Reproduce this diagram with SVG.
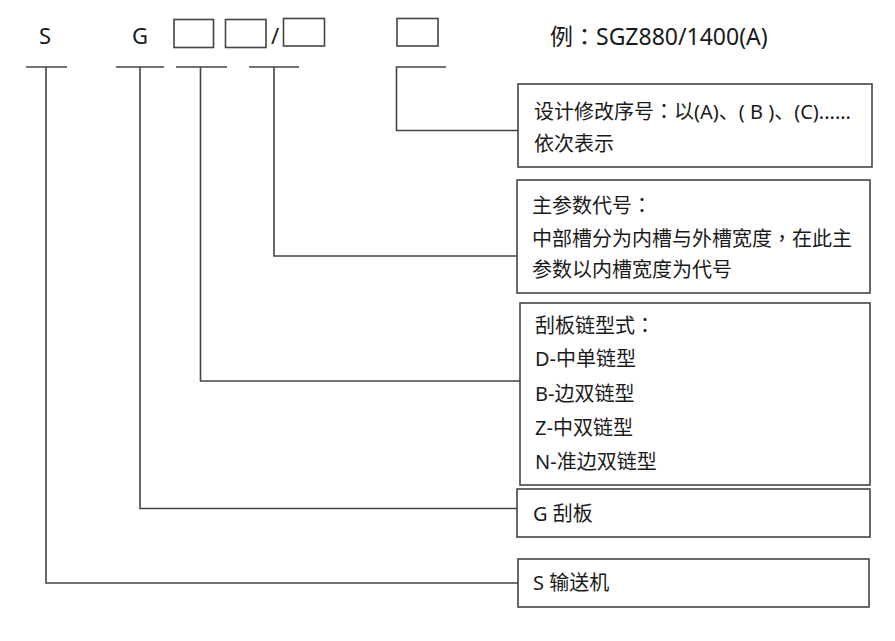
<svg xmlns="http://www.w3.org/2000/svg" width="895" height="641" viewBox="0 0 895 641">
<style>
.t{font-family:"Noto Sans","Noto Sans CJK SC",sans-serif;font-size:20px;fill:#1a1a1a}
.h{font-size:22px}
.e{font-size:23px}
.p{font-family:"Noto Sans CJK TC",sans-serif}
.b{fill:#fff;stroke:#444;stroke-width:1.6}
.c{fill:none;stroke:#444;stroke-width:1.6}
</style>
<rect width="895" height="641" fill="#fff"/>
<g id="header">
<text class="t h" x="45" y="44" text-anchor="middle">S</text>
<text class="t h" x="140" y="44" text-anchor="middle">G</text>
<rect class="b" x="174" y="19.5" width="39.5" height="28"/>
<rect class="b" x="225.5" y="19.5" width="40.5" height="28"/>
<text class="t h" x="275" y="44" text-anchor="middle">/</text>
<rect class="b" x="283.5" y="18.5" width="41" height="27.5"/>
<rect class="b" x="397" y="18.5" width="41" height="27.5"/>
<text class="t e" x="550" y="45">例<tspan class="p">：</tspan>SGZ880/1400(A)</text>
</g>
<g id="connectors">
<polyline class="c" points="26,67 67,67"/>
<polyline class="c" points="46,67 46,583 518,583"/>
<polyline class="c" points="116,67 164,67"/>
<polyline class="c" points="140,67 140,508.5 517,508.5"/>
<polyline class="c" points="176,67 227,67"/>
<polyline class="c" points="200.5,67 200.5,381 520,381"/>
<polyline class="c" points="249,67 299,67"/>
<polyline class="c" points="274,67 274,256 517,256"/>
<polyline class="c" points="446,67 396.5,67 396.5,130.5 518,130.5"/>
</g>
<g id="node-revision">
<rect class="b" x="518" y="84" width="354" height="83"/>
<text class="t" x="534" y="119">设计修改序号<tspan class="p">：</tspan>以(A)、( B )、(C)......</text>
<text class="t" x="534" y="151">依次表示</text>
</g>
<g id="node-param">
<rect class="b" x="517" y="180" width="353" height="113"/>
<text class="t" x="532" y="213">主参数代号<tspan class="p">：</tspan></text>
<text class="t" x="532" y="246">中部槽分为内槽与外槽宽度<tspan class="p">，</tspan>在此主</text>
<text class="t" x="532" y="277">参数以内槽宽度为代号</text>
</g>
<g id="node-chain">
<rect class="b" x="520" y="303" width="350" height="182"/>
<text class="t" x="535" y="333">刮板链型式<tspan class="p">：</tspan></text>
<text class="t" x="535" y="366">D-中单链型</text>
<text class="t" x="535" y="401">B-边双链型</text>
<text class="t" x="535" y="435">Z-中双链型</text>
<text class="t" x="535" y="469">N-准边双链型</text>
</g>
<g id="node-g">
<rect class="b" x="517" y="489" width="353" height="48"/>
<text class="t" x="533" y="521">G 刮板</text>
</g>
<g id="node-s">
<rect class="b" x="518" y="559" width="351" height="48"/>
<text class="t" x="533" y="590">S 输送机</text>
</g>
</svg>
